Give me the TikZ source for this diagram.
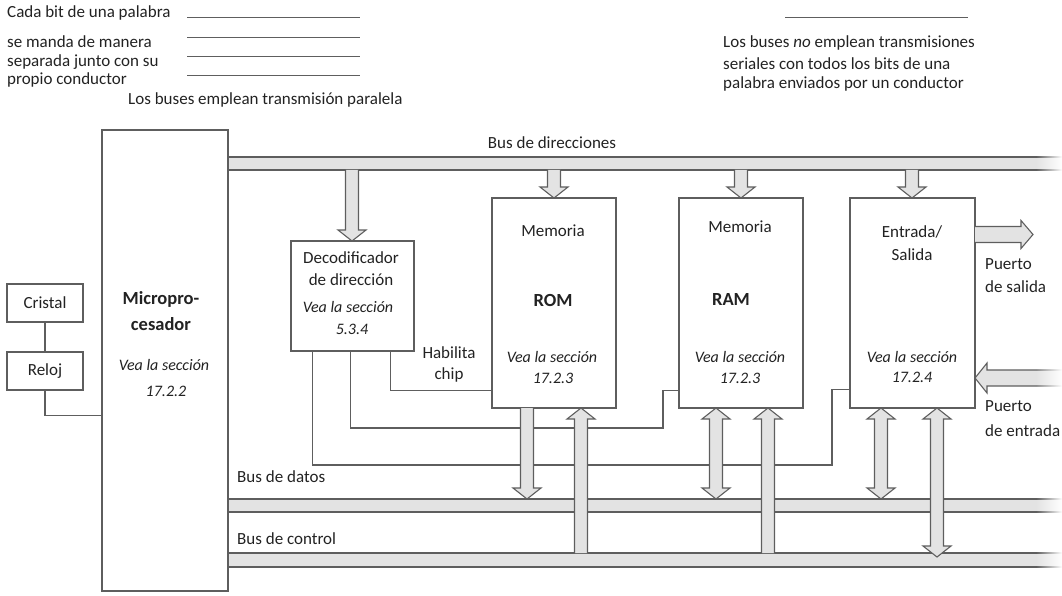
\documentclass[tikz,border=0pt]{standalone}
\usepackage{fontspec}
\setmainfont{Carlito}
\usetikzlibrary{positioning,fadings}
\definecolor{busgray}{HTML}{E3E3E3}
\definecolor{linegray}{HTML}{5E5E5E}
\definecolor{txtgray}{HTML}{222222}
\tikzset{
  block/.style={draw=linegray, line width=1.1pt, fill=white, inner sep=0pt, text=txtgray, font=\fontsize{17}{20}\selectfont},
  wire/.style={draw=linegray, line width=1.1pt},
  busfill/.style={fill=busgray},
  busline/.style={draw=linegray, line width=1.1pt, line join=miter},
  lbl/.style={inner sep=0pt, text=txtgray, font=\fontsize{17}{20}\selectfont},
  lblit/.style={lbl, font=\fontsize{16}{19}\selectfont\itshape},
  lblbf/.style={lbl, font=\fontsize{18.5}{22}\selectfont\bfseries},
}
% fat arrows: x, open end, tip
\newcommand{\busdown}[3]{%
  \fill[busfill] (#1-6.5,#2) -- (#1-6.5,#3-11) -- (#1-14,#3-11) -- (#1,#3) -- (#1+14,#3-11) -- (#1+6.5,#3-11) -- (#1+6.5,#2) -- cycle;
  \draw[busline] (#1-6.5,#2) -- (#1-6.5,#3-11) -- (#1-14,#3-11) -- (#1,#3) -- (#1+14,#3-11) -- (#1+6.5,#3-11) -- (#1+6.5,#2);}
% x, tip, open end
\newcommand{\busup}[3]{%
  \fill[busfill] (#1-6.5,#3) -- (#1-6.5,#2+11) -- (#1-14,#2+11) -- (#1,#2) -- (#1+14,#2+11) -- (#1+6.5,#2+11) -- (#1+6.5,#3) -- cycle;
  \draw[busline] (#1-6.5,#3) -- (#1-6.5,#2+11) -- (#1-14,#2+11) -- (#1,#2) -- (#1+14,#2+11) -- (#1+6.5,#2+11) -- (#1+6.5,#3);}
% x, top tip, bottom tip
\newcommand{\busboth}[3]{%
  \filldraw[busfill, busline] (#1-6.5,#2+11) -- (#1-14,#2+11) -- (#1,#2) -- (#1+14,#2+11) -- (#1+6.5,#2+11) -- (#1+6.5,#3-11) -- (#1+14,#3-11) -- (#1,#3) -- (#1-14,#3-11) -- (#1-6.5,#3-11) -- cycle;}
% y, open end, tip
\newcommand{\busright}[3]{%
  \fill[busfill] (#2,#1-8) -- (#3-12,#1-8) -- (#3-12,#1-14) -- (#3,#1) -- (#3-12,#1+14) -- (#3-12,#1+8) -- (#2,#1+8) -- cycle;
  \draw[busline] (#2,#1-8) -- (#3-12,#1-8) -- (#3-12,#1-14) -- (#3,#1) -- (#3-12,#1+14) -- (#3-12,#1+8) -- (#2,#1+8);}
% y, tip, open end
\newcommand{\busleft}[3]{%
  \fill[busfill] (#3,#1-8) -- (#2+12,#1-8) -- (#2+12,#1-15) -- (#2,#1) -- (#2+12,#1+15) -- (#2+12,#1+8) -- (#3,#1+8) -- cycle;
  \draw[busline] (#3,#1-8) -- (#2+12,#1-8) -- (#2+12,#1-15) -- (#2,#1) -- (#2+12,#1+15) -- (#2+12,#1+8) -- (#3,#1+8);}
\begin{document}
\begin{tikzpicture}[x=1pt, y=-1pt]
\useasboundingbox (0,0) rectangle (1062,596);

% notes on top
\node[lbl, anchor=west] (par1) at (7,13) {Cada bit de una palabra};
\node[lbl, anchor=west] (par2) at (7,42) {se manda de manera};
\node[lbl, anchor=west] (par3) at (7,62) {separada junto con su};
\node[lbl, anchor=west] (par4) at (7,80) {propio conductor};
\node[lbl, anchor=west] (par5) at (128,100) {Los buses emplean transmisión paralela};
\foreach \y in {17,37,56,75}
  \draw[wire, line width=0.8pt] (187,\y) -- (360,\y);

\draw[wire, line width=0.8pt] (785,17) -- (968,17);
\node[lbl, anchor=west] (ser1) at (723,43) {Los buses \textit{no} emplean transmisiones};
\node[lbl, anchor=west] (ser2) at (723,64) {seriales con todos los bits de una};
\node[lbl, anchor=west] (ser3) at (723,84) {palabra enviados por un conductor};

% buses
\fill[busfill] (228,157) rectangle (1062,170);
\draw[busline] (228,157) -- (1062,157) (228,170) -- (1062,170);
\fill[busfill] (228,499) rectangle (1062,512);
\draw[busline] (228,499) -- (1062,499) (228,512) -- (1062,512);
\fill[busfill] (228,553) rectangle (1062,567);
\draw[busline] (228,553) -- (1062,553) (228,567) -- (1062,567);

\node[lbl] (adrlbl) at (552,143) {Bus de direcciones};
\node[lbl, anchor=west] (datlbl) at (237,477) {Bus de datos};
\node[lbl, anchor=west] (ctllbl) at (237,539) {Bus de control};

% blocks
\node[block, minimum width=126pt, minimum height=461pt] (micro) at (165,360.5) {};
\node[block, minimum width=76pt, minimum height=38pt] (cristal) at (45,303) {Cristal};
\node[block, minimum width=76pt, minimum height=38pt] (reloj) at (45,371) {Reloj};
\node[block, minimum width=123pt, minimum height=110pt] (deco) at (352.5,296) {};
\node[block, minimum width=124pt, minimum height=210pt] (rom) at (554,303) {};
\node[block, minimum width=124pt, minimum height=210pt] (ram) at (741,303) {};
\node[block, minimum width=125pt, minimum height=210pt] (io) at (912.5,303) {};

% clock wires
\draw[wire] (cristal) -- (reloj);
\draw[wire] (reloj.south) |- ([yshift=176pt]micro.south west);

% chip select
\draw[wire] ([xshift=100pt]deco.south west) |- ([yshift=18pt]rom.south west);
\draw[wire] ([xshift=60pt]deco.south west) |- (663,428) |- ([yshift=18pt]ram.south west);
\draw[wire] ([xshift=22pt]deco.south west) |- (832,465) |- ([yshift=19pt]io.south west);
\node[lbl, align=center, font=\fontsize{17}{21}\selectfont] (cs) at (449,364) {Habilita\\chip};

% address bus arrows
\busdown{352}{170}{241}
\busdown{554}{170}{198}
\busdown{741}{170}{198}
\busdown{912}{170}{198}

% data and control arrows
\busdown{527}{408}{499}
\busup{581}{408}{553}
\busboth{716}{408}{499}
\busup{768}{408}{553}
\busboth{881}{408}{499}
\busboth{937}{408}{557}

% ports
\busright{234.5}{975}{1033}
\busleft{378}{975}{1062}

% buses fade out on the right
\fill[white, path fading=west] (1036,150) rectangle (1062,175);
\fill[white, path fading=west] (1036,365) rectangle (1062,392);
\fill[white, path fading=west] (1036,494) rectangle (1062,572);

\node[lbl, anchor=west, align=left, font=\fontsize{17}{23}\selectfont] (outp) at (985,276) {Puerto\\de salida};
\node[lbl, anchor=west, align=left, font=\fontsize{17}{25}\selectfont] (inp) at (985,419) {Puerto\\de entrada};

% texts in the blocks
\node[lblbf] (mic1) at (161,299) {Micropro-};
\node[lblbf] (mic2) at (161,324) {cesador};
\node[lblit] (mic3) at (164,365) {Vea la sección};
\node[lblit] (mic4) at (166,391) {17.2.2};

\node[lbl] (dec1) at (351,258) {Decodificador};
\node[lbl] (dec2) at (351,280) {de dirección};
\node[lblit] (dec3) at (348,307) {Vea la sección};
\node[lblit] (dec4) at (352,329) {5.3.4};

\node[lbl] (rom1) at (553,231) {Memoria};
\node[lblbf] (rom2) at (553,300) {ROM};
\node[lblit] (rom3) at (552,357) {Vea la sección};
\node[lblit] (rom4) at (553,378) {17.2.3};

\node[lbl] (ram1) at (740,227) {Memoria};
\node[lblbf] (ram2) at (731,300) {RAM};
\node[lblit] (ram3) at (740,357) {Vea la sección};
\node[lblit] (ram4) at (740,378) {17.2.3};

\node[lbl] (io1) at (912,232) {Entrada/};
\node[lbl] (io2) at (912,255) {Salida};
\node[lblit] (io3) at (912,357) {Vea la sección};
\node[lblit] (io4) at (912,377) {17.2.4};
\end{tikzpicture}
\end{document}
